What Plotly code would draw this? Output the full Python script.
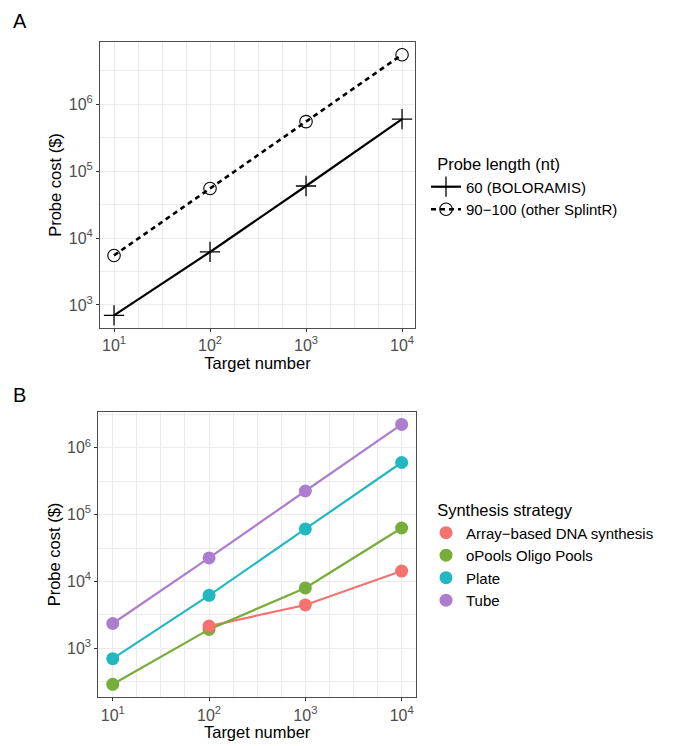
import numpy as np
import plotly.graph_objects as go

# ---------------- data ----------------
targets = [10, 100, 1000, 10000]

# Panel A: probe cost by probe length
cost_60nt = [700, 6200, 60000, 600000]
cost_90_100nt = [5500, 55000, 550000, 5500000]
legend_a_names = ["60 (BOLORAMIS)", "90\u2212100 (other SplintR)"]

# Panel B: probe cost by synthesis strategy
array_targets = [100, 1000, 10000]
array_cost = [2150, 4450, 14300]
opools_cost = [290, 1920, 8000, 63000]
plate_cost = [700, 6200, 61000, 600000]
tube_cost = [2350, 22500, 225000, 2230000]
strategy_names = ["Array\u2212based DNA synthesis", "oPools Oligo Pools", "Plate", "Tube"]
strategy_colors = ["#F4736E", "#78AD3A", "#22B8C2", "#AD7DD0"]

x_tick_vals = [10, 100, 1000, 10000]
x_tick_text = ["10<sup>1</sup>", "10<sup>2</sup>", "10<sup>3</sup>", "10<sup>4</sup>"]
y_tick_vals = [1e3, 1e4, 1e5, 1e6]
y_tick_text = ["10<sup>3</sup>", "10<sup>4</sup>", "10<sup>5</sup>", "10<sup>6</sup>"]

W, H = 678, 746
FONT = "Liberation Sans, Arial, Helvetica, sans-serif"
TITLE_SIZE = 16.5
TICK_SIZE = 16
LEG_SIZE = 15

fig = go.Figure()

# ---------------- Panel A ----------------
fig.add_trace(go.Scatter(
    x=targets, y=cost_60nt, mode="lines+markers", name=legend_a_names[0],
    line=dict(color="black", width=2.2),
    marker=dict(symbol="cross-thin-open", size=14.5, color="black",
                line=dict(color="black", width=1.3)),
    xaxis="x", yaxis="y", legend="legend"))
fig.add_trace(go.Scatter(
    x=targets, y=cost_90_100nt, mode="lines+markers", name=legend_a_names[1],
    line=dict(color="black", width=2.6, dash="5px,4px"),
    marker=dict(symbol="circle-open", size=12.5, color="black",
                line=dict(color="black", width=1.1)),
    xaxis="x", yaxis="y", legend="legend"))

# ---------------- Panel B ----------------
b_series = [
    (array_targets, array_cost),
    (targets, opools_cost),
    (targets, plate_cost),
    (targets, tube_cost),
]
for (xs, ys), nm, col in zip(b_series, strategy_names, strategy_colors):
    fig.add_trace(go.Scatter(
        x=xs, y=ys, mode="lines", name=nm, showlegend=False,
        line=dict(color=col, width=2.2),
        xaxis="x2", yaxis="y2", hoverinfo="skip"))
# points on top; red drawn last
draw_order = [1, 2, 3, 0]
for i in draw_order:
    xs, ys = b_series[i]
    fig.add_trace(go.Scatter(
        x=xs, y=ys, mode="markers", name=strategy_names[i],
        marker=dict(color=strategy_colors[i], size=13),
        xaxis="x2", yaxis="y2", legend="legend2", legendrank=i + 1))


def log_minor(lo, hi, step, majors):
    vals = []
    e = np.floor(lo)
    while e <= hi + 1e-9:
        if e >= lo - 1e-9:
            v = 10 ** e
            if not any(abs(np.log10(v) - np.log10(m)) < 1e-6 for m in majors):
                vals.append(float(v))
        e += step
    return vals


def px_x(p):
    return p / W


def px_y(p):
    return 1 - p / H


GRID = "#EBEBEB"
common_axis = dict(
    type="log", showline=True, mirror=True, linecolor="#4d4d4d", linewidth=1,
    ticks="outside", ticklen=3, tickwidth=1, tickcolor="#333333",
    tickfont=dict(family=FONT, size=TICK_SIZE, color="#4D4D4D"),
    showgrid=True, gridcolor=GRID, gridwidth=0.9, zeroline=False,
)

xa_range = [0.854, 4.135]
ya_range = [2.656, 6.93]
xb_range = [0.85, 4.149]
yb_range = [2.268, 6.538]

xa_dom = [px_x(100), px_x(415)]
xb_dom = [px_x(98.3), px_x(416)]


def xtitle():
    return dict(text="Target number", font=dict(size=TITLE_SIZE, family=FONT), standoff=0)


def ytitle():
    return dict(text="Probe cost ($)", font=dict(size=TITLE_SIZE, family=FONT), standoff=2)


fig.update_layout(
    width=W, height=H,
    margin=dict(l=0, r=0, t=0, b=0, autoexpand=False),
    paper_bgcolor="white", plot_bgcolor="white",
    font=dict(family=FONT, color="black"),
    xaxis=dict(**common_axis, domain=xa_dom, anchor="y",
               range=xa_range, tickvals=x_tick_vals, ticktext=x_tick_text,
               title=xtitle(),
               minor=dict(tickvals=log_minor(xa_range[0], xa_range[1], 0.25, x_tick_vals),
                          showgrid=True, gridcolor=GRID, gridwidth=0.9, ticks="")),
    yaxis=dict(**common_axis, domain=[px_y(328), px_y(42)], anchor="x",
               range=ya_range, tickvals=y_tick_vals, ticktext=y_tick_text,
               title=ytitle(),
               minor=dict(tickvals=log_minor(ya_range[0], ya_range[1], 0.5, y_tick_vals),
                          showgrid=True, gridcolor=GRID, gridwidth=0.9, ticks="")),
    xaxis2=dict(**common_axis, domain=xb_dom, anchor="y2",
                range=xb_range, tickvals=x_tick_vals, ticktext=x_tick_text,
                title=xtitle(),
                minor=dict(tickvals=log_minor(xb_range[0], xb_range[1], 0.25, x_tick_vals),
                           showgrid=True, gridcolor=GRID, gridwidth=0.9, ticks="")),
    yaxis2=dict(**common_axis, domain=[px_y(697.3), px_y(411.7)], anchor="x2",
                range=yb_range, tickvals=y_tick_vals, ticktext=y_tick_text,
                title=ytitle(),
                minor=dict(tickvals=log_minor(yb_range[0], yb_range[1], 0.5, y_tick_vals),
                           showgrid=True, gridcolor=GRID, gridwidth=0.9, ticks="")),
    legend=dict(
        x=px_x(426), y=px_y(149), xanchor="left", yanchor="top",
        bgcolor="rgba(0,0,0,0)", borderwidth=0,
        title=dict(text="\u00a0\u00a0Probe length (nt)", font=dict(size=TITLE_SIZE, family=FONT)),
        font=dict(size=LEG_SIZE, family=FONT, color="black"),
        tracegroupgap=0,
    ),
    legend2=dict(
        x=px_x(426), y=px_y(495), xanchor="left", yanchor="top",
        bgcolor="rgba(0,0,0,0)", borderwidth=0,
        title=dict(text="\u00a0\u00a0Synthesis strategy", font=dict(size=TITLE_SIZE, family=FONT)),
        font=dict(size=LEG_SIZE, family=FONT, color="black"),
        tracegroupgap=0, traceorder="normal",
    ),
    annotations=[
        dict(text="A", x=px_x(11), y=px_y(21), xref="paper", yref="paper",
             xanchor="left", yanchor="middle", showarrow=False,
             font=dict(size=20, family=FONT, color="black")),
        dict(text="B", x=px_x(11), y=px_y(395), xref="paper", yref="paper",
             xanchor="left", yanchor="middle", showarrow=False,
             font=dict(size=20, family=FONT, color="black")),
    ],
)

# remove the browser's default 8px body margin so the figure fills the window exactly
fig.write_html("out.html", config={"displayModeBar": False},
               post_script="document.body.style.margin='0';")
